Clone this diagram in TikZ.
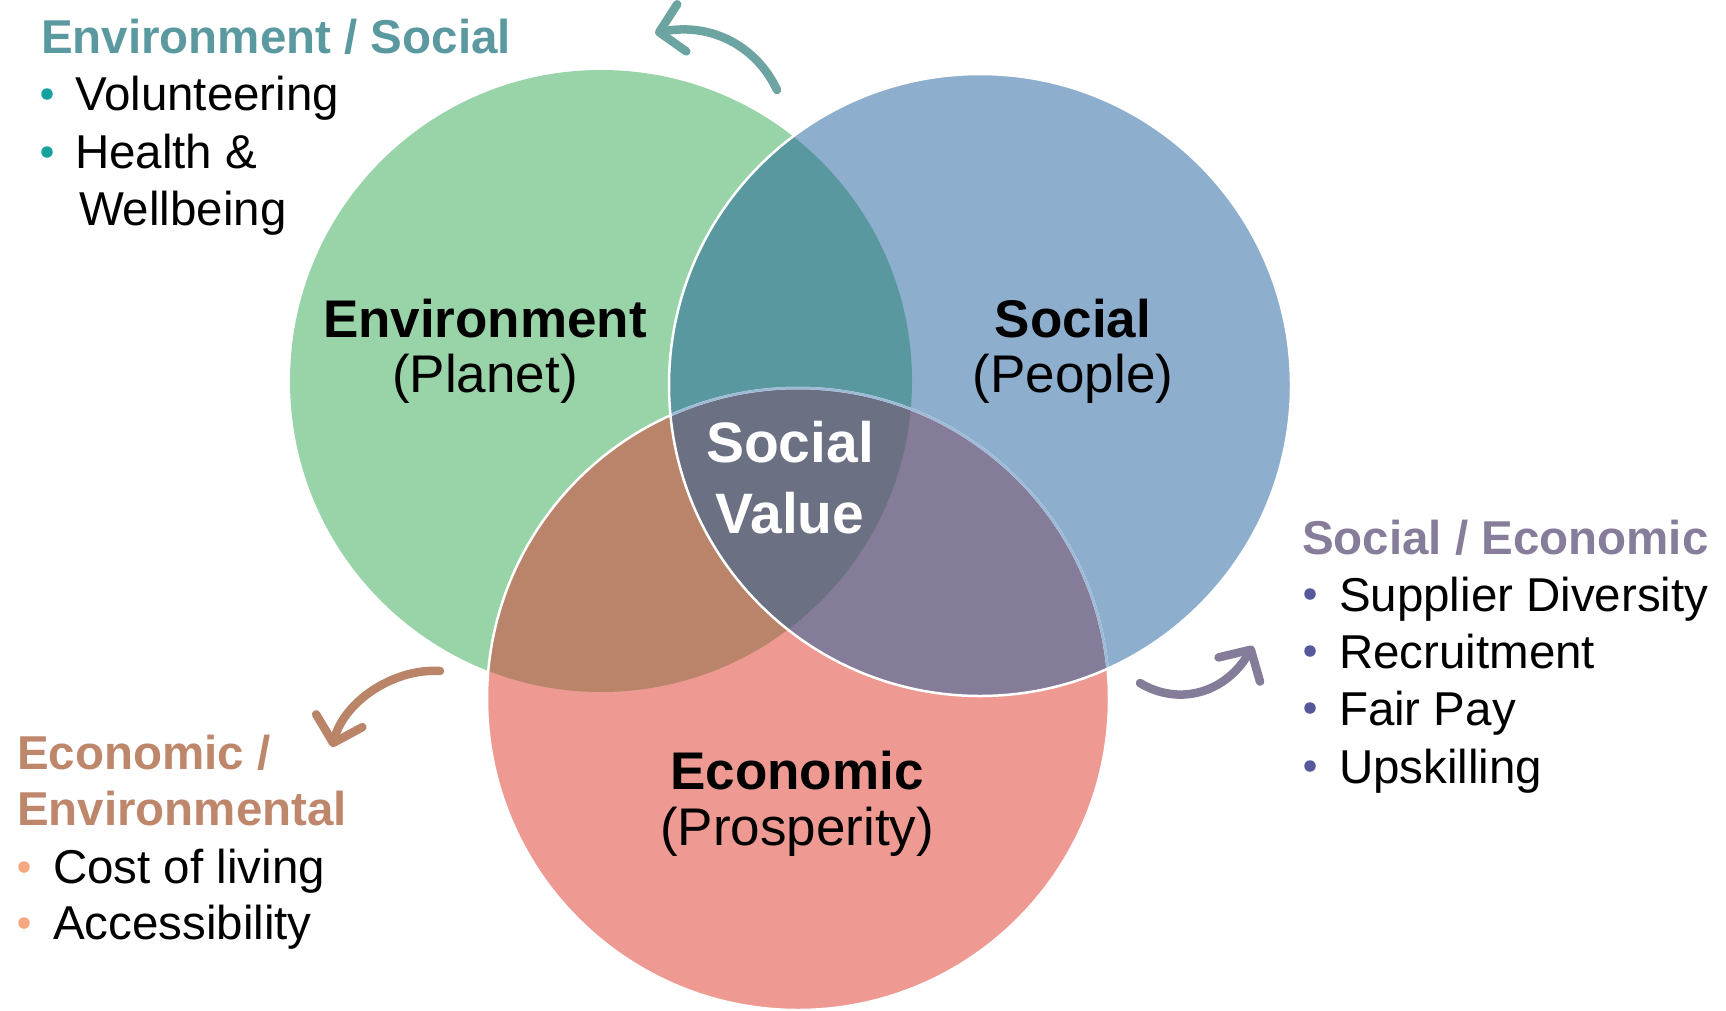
\documentclass[tikz,border=0pt]{standalone}
\usepackage{fontspec}
\setmainfont{Liberation Sans}
\usetikzlibrary{arrows.meta}
\definecolor{cgreen}{HTML}{98D4A8}
\definecolor{cblue}{HTML}{8DAECD}
\definecolor{cred}{HTML}{EE9A93}
\definecolor{cteal}{HTML}{5A98A0}
\definecolor{cbrown}{HTML}{B9846A}
\definecolor{cpurple}{HTML}{857C9A}
\definecolor{ccenter}{HTML}{6B7082}
\definecolor{lineblue}{HTML}{9DBAD6}
\definecolor{hteal}{HTML}{5B99A0}
\definecolor{ateal}{HTML}{6BA4A1}
\definecolor{bteal}{HTML}{16A1A1}
\definecolor{hbrown}{HTML}{BE876B}
\definecolor{abrown}{HTML}{BA8469}
\definecolor{borange}{HTML}{F5A77F}
\definecolor{hpurple}{HTML}{877D9B}
\definecolor{apurple}{HTML}{857C9A}
\definecolor{bpurple}{HTML}{55589A}
\begin{document}
\begin{tikzpicture}[x=1pt,y=-1pt,
  lbl/.style={inner sep=0pt, outer sep=0pt, anchor=base west, font=\fontsize{47.5}{56}\selectfont},
  hdr/.style={lbl, font=\fontsize{47.5}{56}\selectfont\bfseries},
  big/.style={inner sep=0pt, outer sep=0pt, anchor=base, font=\fontsize{53}{60}\selectfont},
  bigb/.style={big, font=\fontsize{53}{60}\selectfont\bfseries},
  sv/.style={inner sep=0pt, outer sep=0pt, anchor=base, text=white, font=\fontsize{57}{64}\selectfont\bfseries},
  arr/.style={line width=8.5pt, line cap=round, line join=round, -{Straight Barb[length=23pt,width=48pt,line cap=round,line join=round]}},
  bul/.style={circle, inner sep=0pt, minimum size=11.5pt}]
\useasboundingbox (0,0) rectangle (1726,1010);
\coordinate (G) at (601,381);
\coordinate (B) at (980,385);
\coordinate (R) at (798,699);
% base circles
\fill[cgreen] (G) circle[radius=311];
\fill[cblue] (B) circle[radius=311];
\fill[cred] (R) circle[radius=311];
% intersections
\begin{scope}
  \clip (G) circle[radius=311];
  \fill[cteal] (B) circle[radius=311];
  \fill[cbrown] (R) circle[radius=311];
\end{scope}
\begin{scope}
  \clip (B) circle[radius=311];
  \fill[cpurple] (R) circle[radius=311];
  \begin{scope}
    \clip (G) circle[radius=311];
    \fill[ccenter] (R) circle[radius=311];
  \end{scope}
\end{scope}
% outlines
\draw[white, line width=2.5pt] (R) circle[radius=311];
\begin{scope}
  \clip (B) circle[radius=311];
  \draw[lineblue, line width=2.5pt] (R) circle[radius=311];
\end{scope}
\draw[white, line width=2.5pt] (B) circle[radius=311];
% circle labels
\node[bigb] (envt) at (485,337) {Environment};
\node[big] (envs) at (485,392) {(Planet)};
\node[bigb] (soct) at (1073,337) {Social};
\node[big] (socs) at (1073,392) {(People)};
\node[bigb] (ecot) at (797,789) {Economic};
\node[big] (ecos) at (797,845) {(Prosperity)};
\node[sv] (sv1) at (790,462) {Social};
\node[sv] (sv2) at (790,533) {Value};
% top-left list
\node[hdr, text=hteal] (h1) at (41,53) {Environment / Social};
\node[bul, fill=bteal] (b11) at (47,94) {};
\node[lbl] (t11) at (75,110) {Volunteering};
\node[bul, fill=bteal] (b12) at (47,152) {};
\node[lbl] (t12) at (75,168) {Health \&};
\node[lbl] (t13) at (79,225) {Wellbeing};
% bottom-left list
\node[hdr, text=hbrown] (h2a) at (17,769) {Economic /};
\node[hdr, text=hbrown] (h2b) at (17,825) {Environmental};
\node[bul, fill=borange] (b21) at (24,867) {};
\node[lbl] (t21) at (53,883) {Cost of living};
\node[bul, fill=borange] (b22) at (24,923) {};
\node[lbl] (t22) at (53,939) {Accessibility};
% right list
\node[hdr, text=hpurple] (h3) at (1302,554) {Social / Economic};
\node[bul, fill=bpurple] (b31) at (1310,594) {};
\node[lbl] (t31) at (1339,611) {Supplier Diversity};
\node[bul, fill=bpurple] (b32) at (1310,651) {};
\node[lbl] (t32) at (1339,668) {Recruitment};
\node[bul, fill=bpurple] (b33) at (1310,708) {};
\node[lbl] (t33) at (1339,725) {Fair Pay};
\node[bul, fill=bpurple] (b34) at (1310,766) {};
\node[lbl] (t34) at (1339,783) {Upskilling};
% arrows
\coordinate (a1s) at (777,90);
\coordinate (a1e) at (655,33);
\draw[arr, ateal] (a1s) .. controls (757,47) and (712,22) .. (a1e);
\coordinate (a2s) at (440,671);
\coordinate (a2e) at (332,747);
\draw[arr, abrown] (a2s) .. controls (395,668) and (345,700) .. (a2e);
\coordinate (a3s) at (1140,683);
\coordinate (a3e) at (1253,646);
\draw[arr, apurple] (a3s) .. controls (1178,706) and (1225,694) .. (a3e);
\end{tikzpicture}
\end{document}
